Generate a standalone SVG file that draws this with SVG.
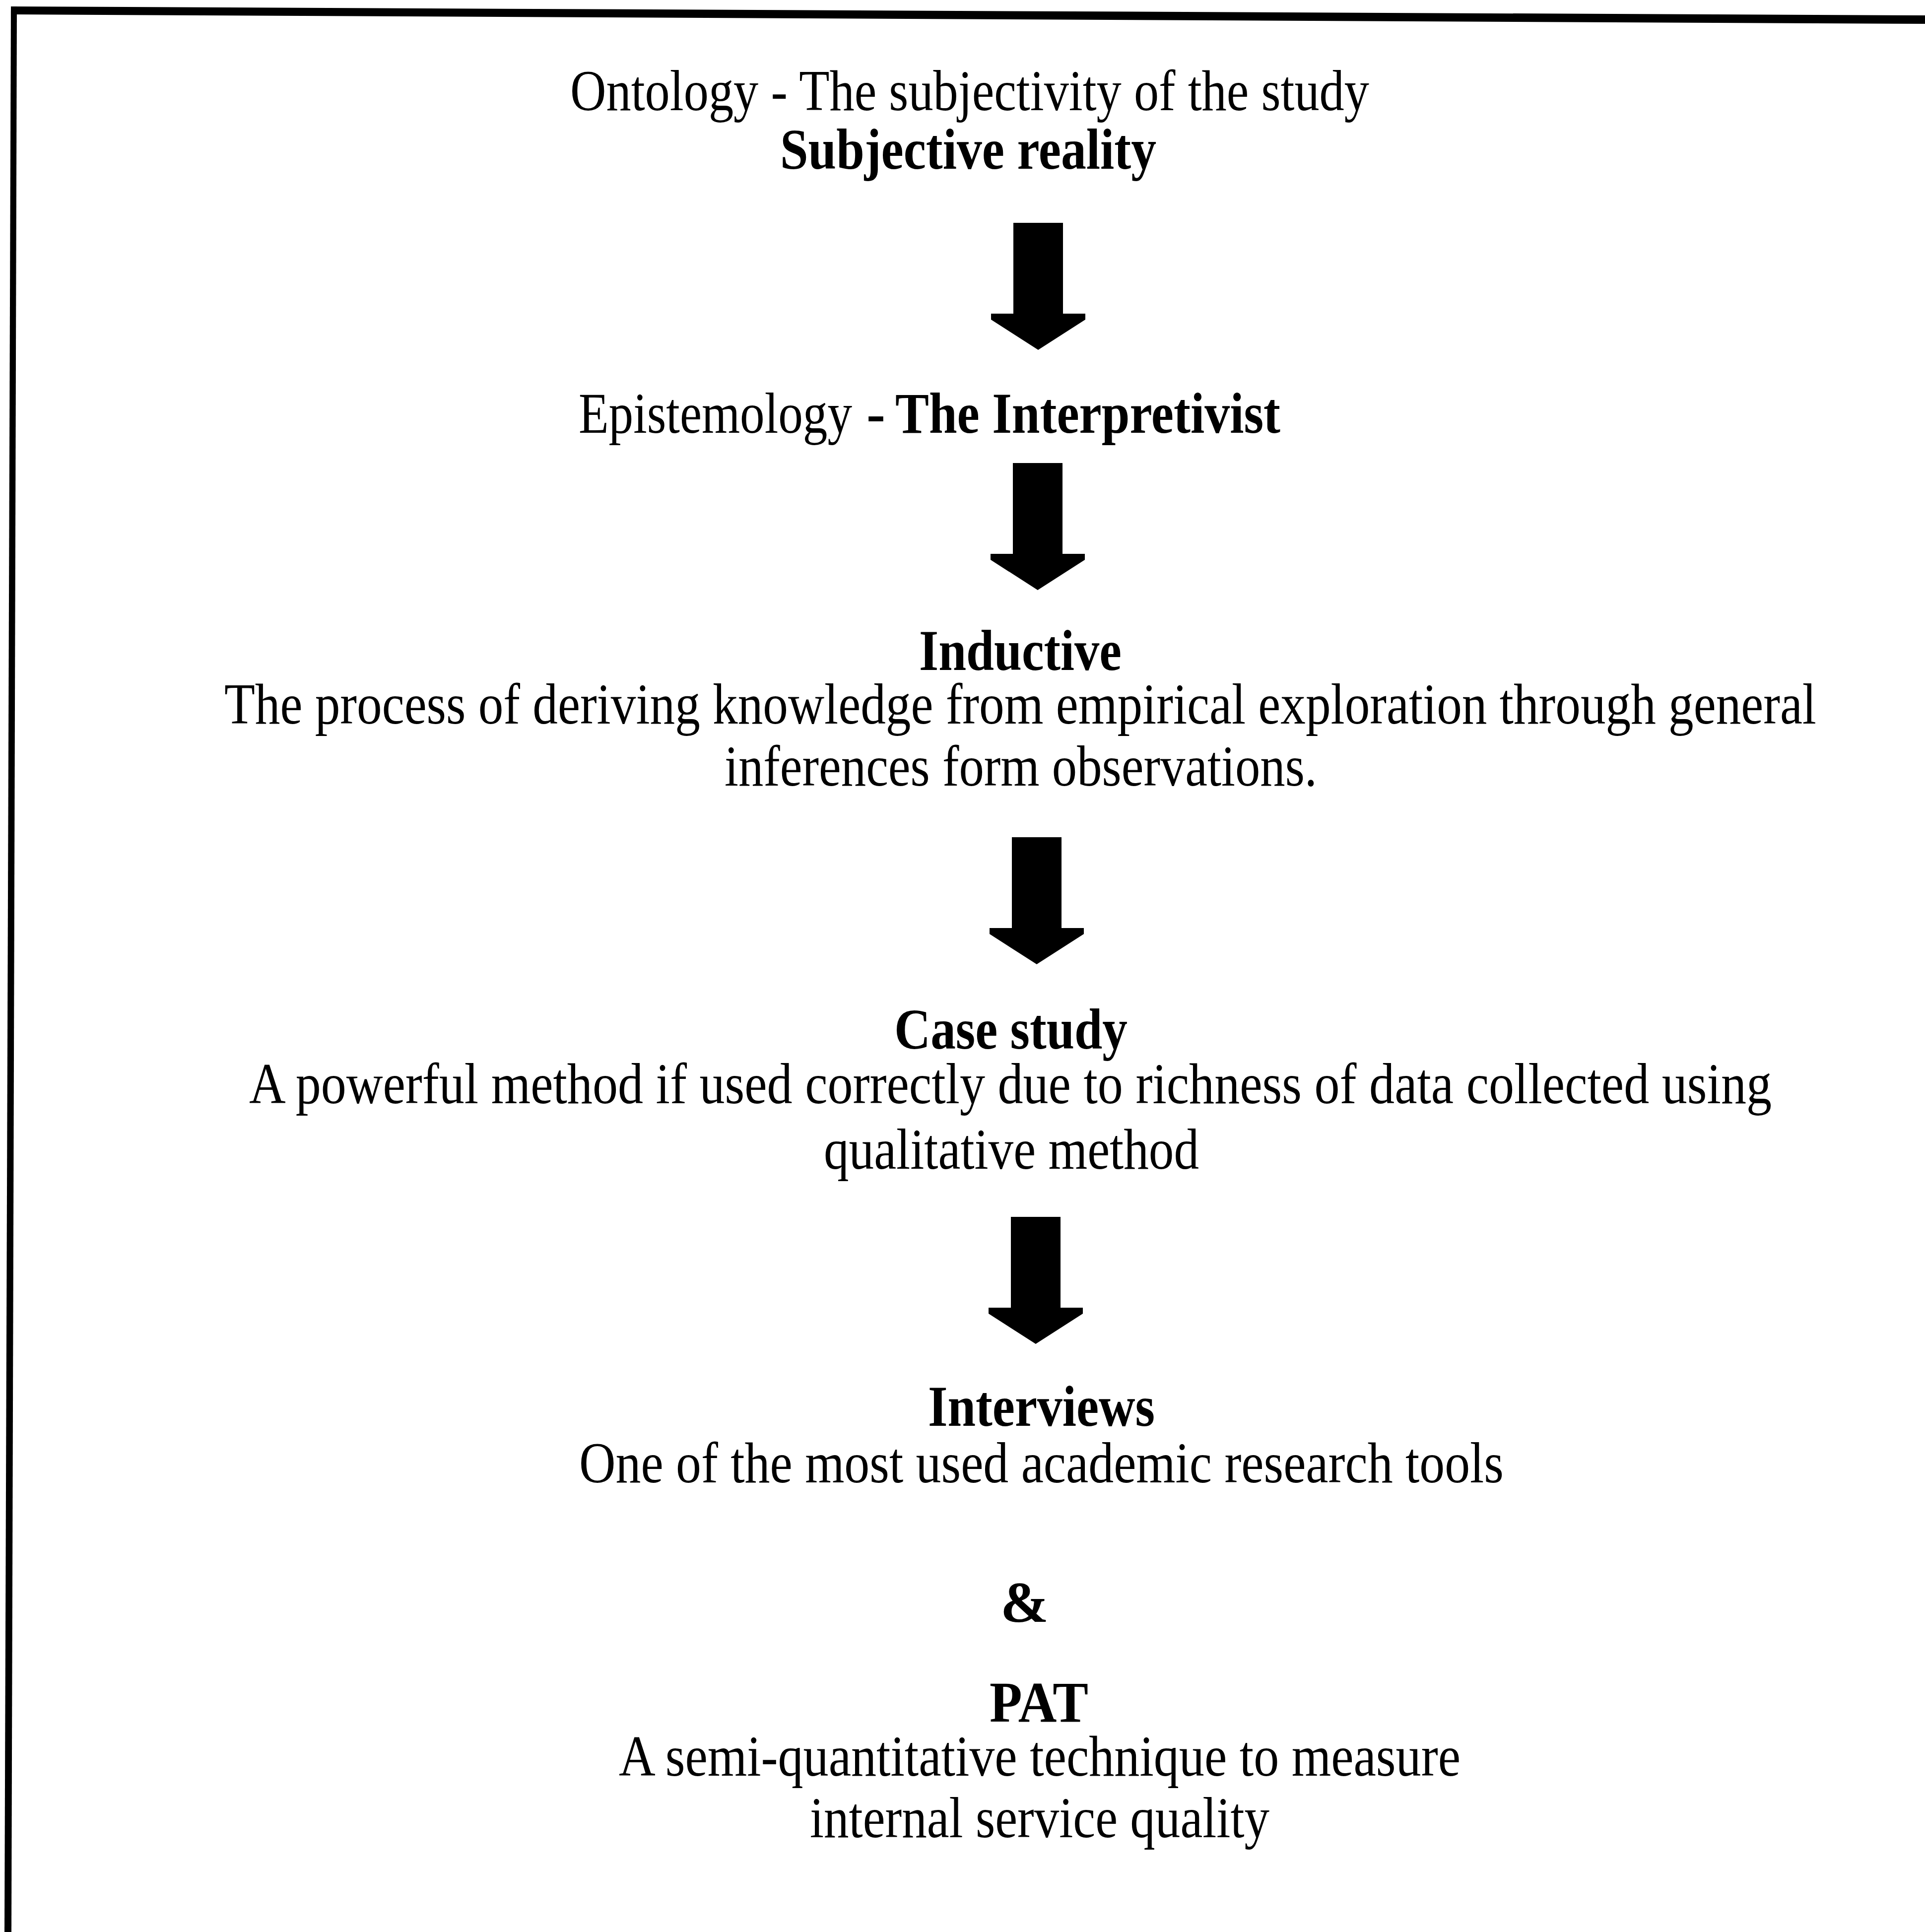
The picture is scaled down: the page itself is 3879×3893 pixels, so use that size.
<svg xmlns="http://www.w3.org/2000/svg" xmlns:xlink="http://www.w3.org/1999/xlink" width="3879" height="3893" viewBox="0 0 3879 3893">
  <style>
    text { font-family: "Liberation Serif", "Times New Roman", serif; font-size: 116px; fill: #000; }
    .b { font-weight: bold; }
    .frame { fill: #000; }
    .arrow { fill: #000; }
  </style>
  <defs>
    <!-- block arrow pointing down, origin at top centre of the shaft -->
    <path id="down-arrow" class="arrow" d="M-50,0 H50 V183 H95 V195 L0,256 L-95,195 V183 H-50 Z"/>
  </defs>

  <rect width="3879" height="3893" fill="#fff"/>

  <!-- frame: top and left rules only -->
  <g id="frame">
    <polygon class="frame" points="22,13 3879,31 3879,48 22,29"/>
    <polygon class="frame" points="22,13 34,13 23,3893 9,3893"/>
  </g>

  <g id="ontology">
    <text x="1149" y="222" textLength="1610" lengthAdjust="spacingAndGlyphs">Ontology - The subjectivity of the study</text>
    <text class="b" x="1572" y="340" textLength="758" lengthAdjust="spacingAndGlyphs">Subjective reality</text>
  </g>

  <g id="epistemology">
    <text x="1166" y="872" textLength="551" lengthAdjust="spacingAndGlyphs">Epistemology</text>
    <text class="b" x="1746" y="872" textLength="38" lengthAdjust="spacingAndGlyphs">-</text>
    <text class="b" x="1804" y="872" textLength="776" lengthAdjust="spacingAndGlyphs">The Interpretivist</text>
  </g>

  <g id="inductive">
    <text class="b" x="1852" y="1350" textLength="408" lengthAdjust="spacingAndGlyphs">Inductive</text>
    <text x="452" y="1458" textLength="3208" lengthAdjust="spacingAndGlyphs">The process of deriving knowledge from empirical exploration through general</text>
    <text x="1460" y="1583" textLength="1194" lengthAdjust="spacingAndGlyphs">inferences form observations.</text>
  </g>

  <g id="case-study">
    <text class="b" x="1802" y="2113" textLength="470" lengthAdjust="spacingAndGlyphs">Case study</text>
    <text x="502" y="2223" textLength="3068" lengthAdjust="spacingAndGlyphs">A powerful method if used correctly due to richness of data collected using</text>
    <text x="1660" y="2355" textLength="756" lengthAdjust="spacingAndGlyphs">qualitative method</text>
  </g>

  <g id="interviews">
    <text class="b" x="1870" y="2873" textLength="457" lengthAdjust="spacingAndGlyphs">Interviews</text>
    <text x="1167" y="2987" textLength="1863" lengthAdjust="spacingAndGlyphs">One of the most used academic research tools</text>
  </g>

  <g id="and">
    <text class="b" x="2016" y="3268" textLength="97" lengthAdjust="spacingAndGlyphs">&amp;</text>
  </g>

  <g id="pat">
    <text class="b" x="1994" y="3469" textLength="199" lengthAdjust="spacingAndGlyphs">PAT</text>
    <text x="1247" y="3578" textLength="1696" lengthAdjust="spacingAndGlyphs">A semi-quantitative technique to measure</text>
    <text x="1632" y="3702" textLength="926" lengthAdjust="spacingAndGlyphs">internal service quality</text>
  </g>

  <g id="connectors">
    <use xlink:href="#down-arrow" href="#down-arrow" transform="translate(2092,449)"/>
    <use xlink:href="#down-arrow" href="#down-arrow" transform="translate(2091,933)"/>
    <use xlink:href="#down-arrow" href="#down-arrow" transform="translate(2089,1687)"/>
    <use xlink:href="#down-arrow" href="#down-arrow" transform="translate(2087,2452)"/>
  </g>
</svg>
